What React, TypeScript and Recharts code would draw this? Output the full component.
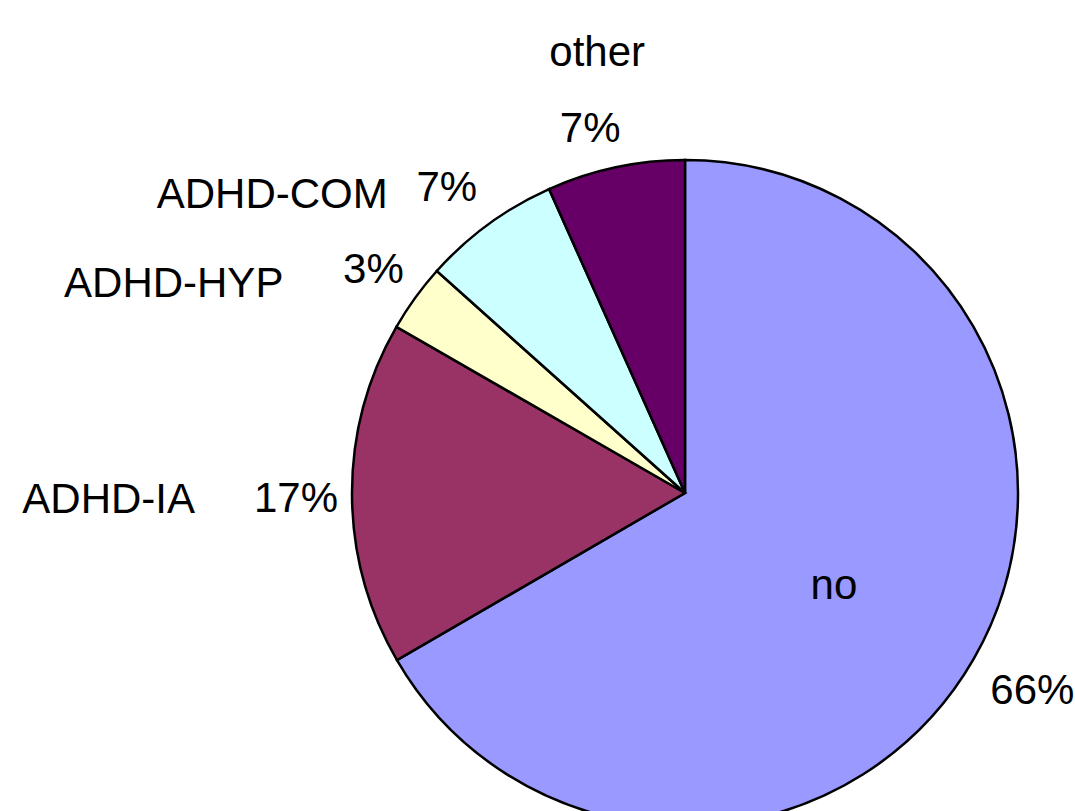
import React from 'react';
import { PieChart, Pie, Cell } from 'recharts';

const categories = ['no', 'ADHD-IA', 'ADHD-HYP', 'ADHD-COM', 'other'];
const shares = [66.7, 16.7, 3.3, 6.7, 6.7];
const pctLabels = ['66%', '17%', '3%', '7%', '7%'];
const colors = ['#9999FF', '#993366', '#FFFFCC', '#CCFFFF', '#660066'];

const data = categories.map((name, i) => ({ name, value: shares[i], pct: pctLabels[i] }));

const RADIAN = Math.PI / 180;
const FONT = '"Liberation Sans", Arial, sans-serif';

// label layout: nudge of the percent label, and name position relative to it
const labelLayout: Record<string, { px: number; py: number; dx: number; dy: number; anchor: 'start' | 'middle' | 'end' }> = {
  'no': { px: 12, py: 3, dx: 0, dy: 0, anchor: 'middle' },
  'other': { px: -14, py: 13, dx: 7, dy: -76, anchor: 'middle' },
  'ADHD-COM': { px: -10, py: 6, dx: -59, dy: 7, anchor: 'end' },
  'ADHD-HYP': { px: 2, py: 2, dx: -90, dy: 14, anchor: 'end' },
  'ADHD-IA': { px: -2, py: 4, dx: -101, dy: 1, anchor: 'end' },
};

const renderLabel = (props: any) => {
  const { cx, cy, midAngle, outerRadius, name, payload } = props;
  const l = labelLayout[name];
  const r = outerRadius + 54;
  const x = cx + r * Math.cos(-midAngle * RADIAN) + l.px;
  const y = cy + r * Math.sin(-midAngle * RADIAN) + l.py;
  const textProps = { fill: '#000', fontSize: 42, fontFamily: FONT, dominantBaseline: 'central' as const };
  let nameEl;
  if (name === 'no') {
    const ri = outerRadius * 0.53;
    nameEl = (
      <text x={cx + ri * Math.cos(-midAngle * RADIAN) - 4} y={cy + ri * Math.sin(-midAngle * RADIAN) + 3} textAnchor="middle" {...textProps}>
        {name}
      </text>
    );
  } else {
    nameEl = (
      <text x={x + l.dx} y={y + l.dy} textAnchor={l.anchor} {...textProps}>
        {name}
      </text>
    );
  }
  return (
    <g key={`lbl-${name}`}>
      {nameEl}
      <text x={x} y={y} textAnchor="middle" {...textProps}>
        {payload.pct}
      </text>
    </g>
  );
};

export default function App() {
  return (
    <div style={{ position: 'absolute', left: 0, top: 0, width: 1075, height: 811, background: '#fff', overflow: 'hidden' }}>
      <PieChart width={1075} height={811} margin={{ top: 0, right: 0, bottom: 0, left: 0 }}>
        <Pie
          data={data}
          dataKey="value"
          nameKey="name"
          cx={685}
          cy={493}
          outerRadius={333}
          startAngle={90}
          endAngle={-270}
          stroke="#000"
          strokeWidth={2.5}
          label={renderLabel}
          labelLine={false}
          isAnimationActive={false}
        >
          {data.map((d, i) => (
            <Cell key={d.name} fill={colors[i]} />
          ))}
        </Pie>
      </PieChart>
    </div>
  );
}
